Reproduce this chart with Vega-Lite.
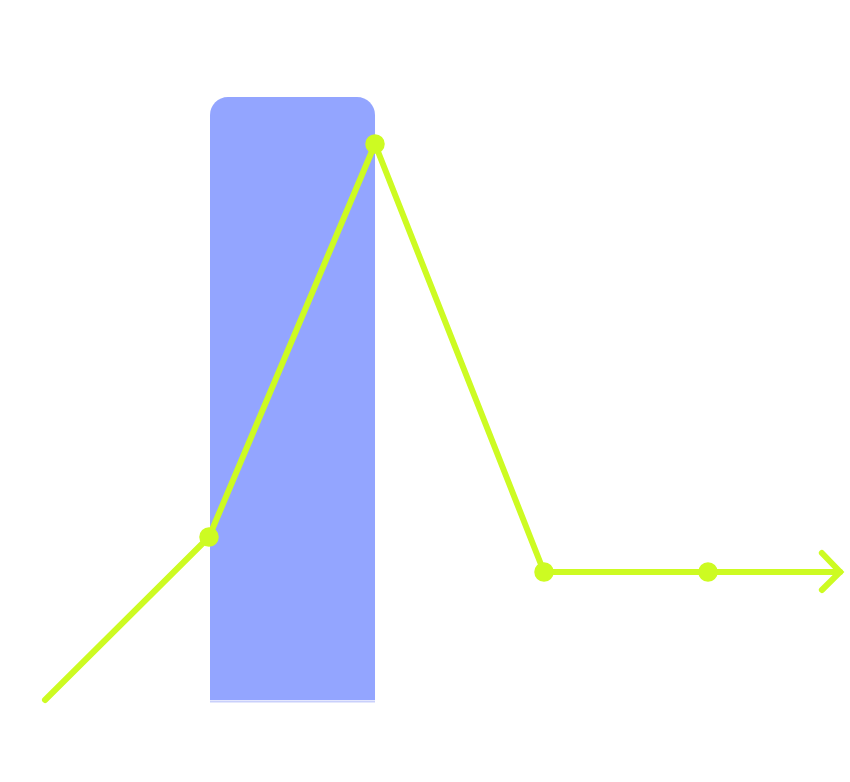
{
  "$schema": "https://vega.github.io/schema/vega-lite/v6.json",
  "width": 850,
  "height": 782,
  "autosize": {"type": "none"},
  "padding": 0,
  "background": "white",
  "config": {"view": {"stroke": null}},
  "datasets": {
    "bar": [{"x0": 0.994, "x1": 1.988, "value": 603}],
    "line": [
      {"x": 0, "y": 0, "dot": false},
      {"x": 0.988, "y": 163, "dot": true},
      {"x": 1.988, "y": 556, "dot": true},
      {"x": 3.006, "y": 128, "dot": true},
      {"x": 3.994, "y": 128, "dot": true},
      {"x": 4.79, "y": 128, "dot": false}
    ],
    "arrow": [
      {"x": 4.68, "y": 147, "o": 0},
      {"x": 4.79, "y": 128, "o": 1},
      {"x": 4.68, "y": 110, "o": 2}
    ]
  },
  "layer": [
    {
      "data": {"name": "bar"},
      "mark": {"type": "rect", "color": "#93a5ff", "cornerRadiusTopLeft": 18, "cornerRadiusTopRight": 18},
      "encoding": {
        "x": {"field": "x0", "type": "quantitative", "scale": {"domain": [-0.2711, 4.8494], "nice": false, "zero": false}, "axis": null},
        "x2": {"field": "x1"},
        "y": {"field": "value", "type": "quantitative", "scale": {"domain": [-82, 700], "nice": false, "zero": false}, "axis": null},
        "y2": {"datum": 0}
      }
    },
    {
      "data": {"name": "bar"},
      "mark": {"type": "rule", "color": "#c9d0fb", "strokeWidth": 2},
      "encoding": {
        "x": {"field": "x0", "type": "quantitative"},
        "x2": {"field": "x1"},
        "y": {"datum": -1.5}
      }
    },
    {
      "data": {"name": "line"},
      "mark": {"type": "line", "color": "#cdfb22", "strokeWidth": 6, "strokeCap": "round", "strokeJoin": "round"},
      "encoding": {
        "x": {"field": "x", "type": "quantitative"},
        "y": {"field": "y", "type": "quantitative"}
      }
    },
    {
      "data": {"name": "arrow"},
      "mark": {"type": "line", "color": "#cdfb22", "strokeWidth": 6, "strokeCap": "round", "strokeJoin": "miter"},
      "encoding": {
        "x": {"field": "x", "type": "quantitative"},
        "y": {"field": "y", "type": "quantitative"},
        "order": {"field": "o"}
      }
    },
    {
      "data": {"name": "line"},
      "transform": [{"filter": "datum.dot"}],
      "mark": {"type": "point", "filled": true, "color": "#cdfb22", "opacity": 1, "size": 380, "shape": "circle"},
      "encoding": {
        "x": {"field": "x", "type": "quantitative"},
        "y": {"field": "y", "type": "quantitative"}
      }
    }
  ]
}
